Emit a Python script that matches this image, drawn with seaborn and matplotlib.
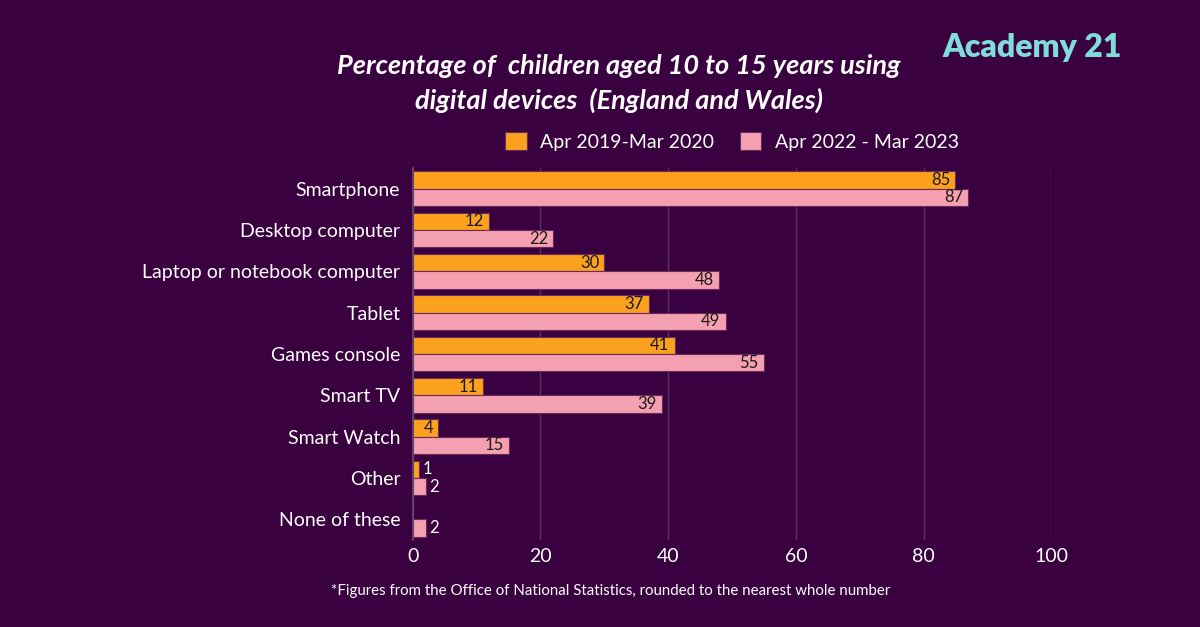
import numpy as np
import pandas as pd
import matplotlib
matplotlib.use("Agg")
import matplotlib.pyplot as plt
import seaborn as sns

# data
devices = ["Smartphone", "Desktop computer", "Laptop or notebook computer", "Tablet",
           "Games console", "Smart TV", "Smart Watch", "Other", "None of these"]
period_1 = "Apr 2019-Mar 2020"
period_2 = "Apr 2022 - Mar 2023"
values_1 = [85, 12, 30, 37, 41, 11, 4, 1, np.nan]
values_2 = [87, 22, 48, 49, 55, 39, 15, 2, 2]

BG = "#3a0140"
ORANGE = "#fba11e"
PINK = "#f5a0b0"
TEAL = "#7fdcdb"
GRID = "#5a3061"

sns.set_theme(style="white")
plt.rcParams["font.family"] = ["Lato", "DejaVu Sans"]

df = pd.DataFrame({
    "device": devices * 2,
    "period": [period_1] * len(devices) + [period_2] * len(devices),
    "pct": values_1 + values_2,
})

fig = plt.figure(figsize=(12, 6.27), dpi=100, facecolor=BG)
ax = fig.add_axes([0.344, 0.139, 0.532, 0.593])
ax.set_facecolor(BG)

sns.barplot(data=df, y="device", x="pct", hue="period", order=devices,
            hue_order=[period_1, period_2], palette=[ORANGE, PINK],
            saturation=1, orient="h", width=0.84, edgecolor="#6a2a5a",
            linewidth=0.8, errorbar=None, ax=ax, legend=True)

ax.set_xlim(0, 100)
ax.set_xticks([0, 20, 40, 60, 80, 100])
ax.xaxis.grid(True, color=GRID, linewidth=1)
ax.yaxis.grid(False)
ax.set_axisbelow(True)
for s in ["top", "right", "bottom"]:
    ax.spines[s].set_visible(False)
ax.spines["left"].set_color("#6a4a72")
ax.spines["left"].set_linewidth(1.2)
ax.tick_params(axis="both", length=0, colors="white", labelsize=14)
ax.tick_params(axis="y", pad=9)
ax.tick_params(axis="x", pad=6)
ax.set_xlabel("")
ax.set_ylabel("")

# value labels
for cont, vals in zip(ax.containers, [values_1, values_2]):
    for bar, v in zip(cont, vals):
        if np.isnan(v):
            continue
        yc = bar.get_y() + bar.get_height() / 2
        if v >= 4:
            ax.text(v - 0.8, yc, f"{v:.0f}", ha="right", va="center",
                    color="#1a1a1a", fontsize=12)
        else:
            ax.text(v + 0.6, yc, f"{v:.0f}", ha="left", va="center",
                    color="white", fontsize=12)

leg = ax.legend(loc="lower center", bbox_to_anchor=(0.5, 1.0), ncol=2,
                frameon=False, fontsize=14, labelcolor="white",
                handlelength=1.1, handleheight=1.1, columnspacing=1.3,
                handletextpad=0.7)

fig.text(0.516, 0.867, "Percentage of  children aged 10 to 15 years using\ndigital devices  (England and Wales)",
         ha="center", va="center", color="white", fontsize=19.5,
         fontweight="bold", fontstyle="italic", linespacing=1.45)

fig.text(0.86, 0.925, "Academy 21", ha="center", va="center", color=TEAL,
         fontsize=23, fontweight="heavy")

fig.text(0.509, 0.058, "*Figures from the Office of National Statistics, rounded to the nearest whole number",
         ha="center", va="center", color="white", fontsize=10.8)

fig.savefig("out.png", dpi=100, facecolor=BG)
